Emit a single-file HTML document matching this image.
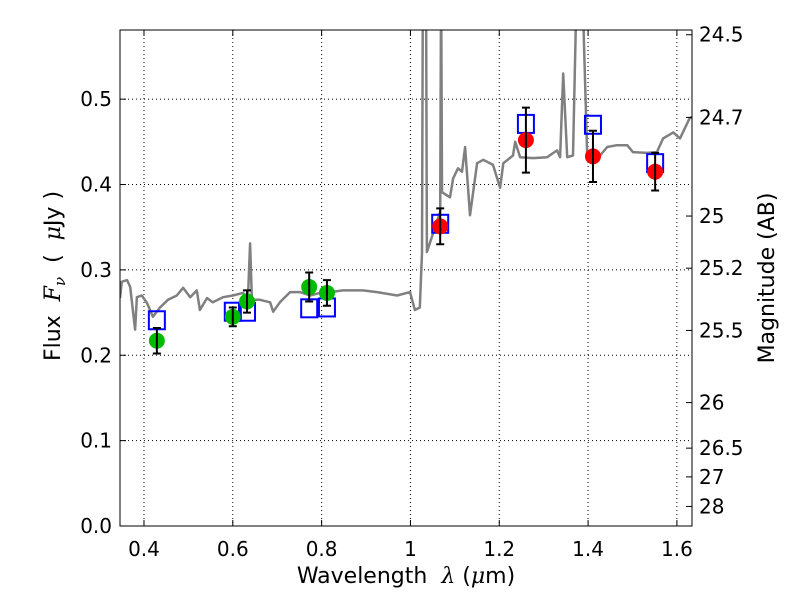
<!DOCTYPE html>
<html><head><meta charset="utf-8"><style>
html,body{margin:0;padding:0;background:#fff;}
svg{display:block;font-family:"DejaVu Sans","Liberation Sans",sans-serif;}
</style></head><body>
<svg id="chart" width="800" height="600" viewBox="0 0 800 600">
<defs><clipPath id="plotclip"><rect x="120" y="30" width="572" height="496"/></clipPath></defs>
<rect x="0" y="0" width="800" height="600" fill="#fff"/>
<g id="grid"></g>
<g id="spec" clip-path="url(#plotclip)"></g>
<g id="marks" clip-path="url(#plotclip)"></g>
<rect x="120" y="30" width="572" height="496" fill="none" stroke="#000" stroke-width="1"/>
<g id="axes"></g>
<text x="406" y="583" font-size="22" text-anchor="middle" xml:space="preserve" style="white-space:pre">Wavelength  <tspan font-family="DejaVu Serif" font-style="italic">λ</tspan> (<tspan font-family="DejaVu Serif" font-style="italic">μ</tspan>m)</text>
<text transform="translate(60,276) rotate(-90)" font-size="22" text-anchor="middle" xml:space="preserve" style="white-space:pre">Flux  <tspan font-family="DejaVu Serif" font-style="italic">F</tspan><tspan font-family="DejaVu Serif" font-style="italic" font-size="15" dy="5">ν</tspan><tspan dy="-5">  (  </tspan><tspan font-family="DejaVu Serif" font-style="italic">μ</tspan>Jy )</text>
<text transform="translate(774,278) rotate(-90)" font-size="22" text-anchor="middle">Magnitude (AB)</text>
</svg>
<script>
const specLam = [0.346,0.350,0.362,0.369,0.380,0.384,0.395,0.407,0.420,0.436,0.454,0.474,0.488,0.504,0.519,0.526,0.542,0.555,0.578,0.600,0.623,0.634,0.639,0.643,0.661,0.684,0.691,0.706,0.729,0.751,0.774,0.796,0.819,0.848,0.893,0.925,0.970,0.999,1.010,1.021,1.026,1.028,1.033,1.035,1.037,1.067,1.069,1.071,1.089,1.096,1.107,1.116,1.123,1.134,1.150,1.164,1.186,1.202,1.209,1.231,1.236,1.247,1.276,1.308,1.330,1.337,1.344,1.353,1.366,1.375,1.386,1.398,1.427,1.443,1.465,1.488,1.501,1.533,1.555,1.569,1.592,1.607,1.629,1.640];
const specFlux = [0.267,0.286,0.288,0.280,0.230,0.268,0.270,0.261,0.245,0.256,0.265,0.270,0.279,0.268,0.276,0.253,0.267,0.262,0.268,0.270,0.273,0.265,0.331,0.265,0.265,0.262,0.251,0.262,0.274,0.274,0.270,0.273,0.274,0.276,0.276,0.274,0.270,0.274,0.253,0.256,0.320,0.650,0.650,0.650,0.321,0.368,0.650,0.391,0.385,0.407,0.419,0.415,0.444,0.364,0.425,0.429,0.423,0.396,0.425,0.434,0.450,0.432,0.431,0.432,0.440,0.432,0.530,0.432,0.434,0.650,0.650,0.434,0.434,0.444,0.446,0.446,0.438,0.437,0.438,0.454,0.461,0.454,0.478,0.480];
const optLam = [0.429,0.600,0.632,0.772,0.812];
const optFlux = [0.217,0.245,0.263,0.280,0.273];
const optErr = [0.015,0.011,0.013,0.017,0.015];
const irLam = [1.067,1.260,1.411,1.551];
const irFlux = [0.351,0.452,0.433,0.415];
const irErr = [0.021,0.038,0.030,0.022];
const modelLam = [0.429,0.600,0.632,0.772,0.812,1.067,1.260,1.411,1.551];
const modelFlux = [0.241,0.251,0.251,0.255,0.256,0.354,0.471,0.470,0.425];
const xTicks = [0.4,0.6,0.8,1.0,1.2,1.4,1.6];
const xTickLabels = ["0.4","0.6","0.8","1","1.2","1.4","1.6"];
const yTicks = [0.0,0.1,0.2,0.3,0.4,0.5];
const yTickLabels = ["0.0","0.1","0.2","0.3","0.4","0.5"];
const magTicks = [24.5,24.7,25,25.2,25.5,26,26.5,27,28];
const magTickLabels = ["24.5","24.7","25","25.2","25.5","26","26.5","27","28"];

const NS="http://www.w3.org/2000/svg";
const X0=120,X1=692,Y0=526,Y1=30;
const xmin=0.346,xmax=1.634,ymin=0,ymax=0.581;
function sx(v){return X0+(v-xmin)/(xmax-xmin)*(X1-X0);}
function sy(v){return Y0-(v-ymin)/(ymax-ymin)*(Y0-Y1);}
function magToFlux(m){return Math.pow(10,(23.9-m)/2.5);}
function mk(tag,attrs,parent){const e=document.createElementNS(NS,tag);for(const k in attrs)e.setAttribute(k,attrs[k]);parent.appendChild(e);return e;}
const grid=document.getElementById('grid'),axes=document.getElementById('axes'),spec=document.getElementById('spec'),marks=document.getElementById('marks');

xTicks.forEach((t,i)=>{const x=sx(t);
 let g=mk('line',{x1:x,x2:x,y1:Y1,y2:Y0,stroke:'#000','stroke-width':1,'stroke-dasharray':'1,3'},grid);
 
 
 let a=mk('line',{x1:x,x2:x,y1:Y0,y2:Y0-6,stroke:'#000'},axes);
 
 
 let b=mk('line',{x1:x,x2:x,y1:Y1,y2:Y1+6,stroke:'#000'},axes);
 
 
 let l=mk('text',{x:x,y:556,'font-size':20,'text-anchor':'middle'},axes);l.textContent=xTickLabels[i];
 
 
});
yTicks.forEach((t,i)=>{const y=sy(t);
 let g=mk('line',{x1:X0,x2:X1,y1:y,y2:y,stroke:'#000','stroke-width':1,'stroke-dasharray':'1,3'},grid);
 
 
 let a=mk('line',{x1:X0,x2:X0+6,y1:y,y2:y,stroke:'#000'},axes);
 
 
 let l=mk('text',{x:112,y:y+7,'font-size':20,'text-anchor':'end'},axes);l.textContent=yTickLabels[i];
 
 
});
magTicks.forEach((m,i)=>{const y=sy(magToFlux(m));
 let a=mk('line',{x1:X1,x2:X1-6,y1:y,y2:y,stroke:'#000'},axes);
 
 
 let l=mk('text',{x:699,y:y+7,'font-size':20,'text-anchor':'start'},axes);l.textContent=magTickLabels[i];
 
 
});

let d=specLam.map((v,i)=>(i?'L':'M')+sx(v).toFixed(1)+','+sy(specFlux[i]).toFixed(1)).join('');
let p=mk('path',{d:d,fill:'none',stroke:'#808080','stroke-width':2.5,'stroke-linejoin':'round'},spec);



modelLam.forEach((v,i)=>{const x=sx(v),y=sy(modelFlux[i]);
 let r=mk('rect',{x:x-8,y:y-9,width:16,height:18,fill:'none',stroke:'#0000ff','stroke-width':2},marks);
 
 
});
function drawPts(lams,fl,er,color,nm){
 lams.forEach((v,i)=>{const x=sx(v),y=sy(fl[i]);
  const c=mk('circle',{cx:x,cy:y,r:8,fill:color},marks);
  
  
  const yt=sy(fl[i]+er[i]),yb=sy(fl[i]-er[i]);
  const e=mk('path',{d:`M${x},${yt}L${x},${yb}M${x-4},${yt}L${x+4},${yt}M${x-4},${yb}L${x+4},${yb}`,stroke:'#000','stroke-width':2,fill:'none'},marks);
  
  
 });
}
drawPts(optLam,optFlux,optErr,'#00bb00','optical-point');
drawPts(irLam,irFlux,irErr,'#ff0000','nir-point');
</script>
</body></html>
